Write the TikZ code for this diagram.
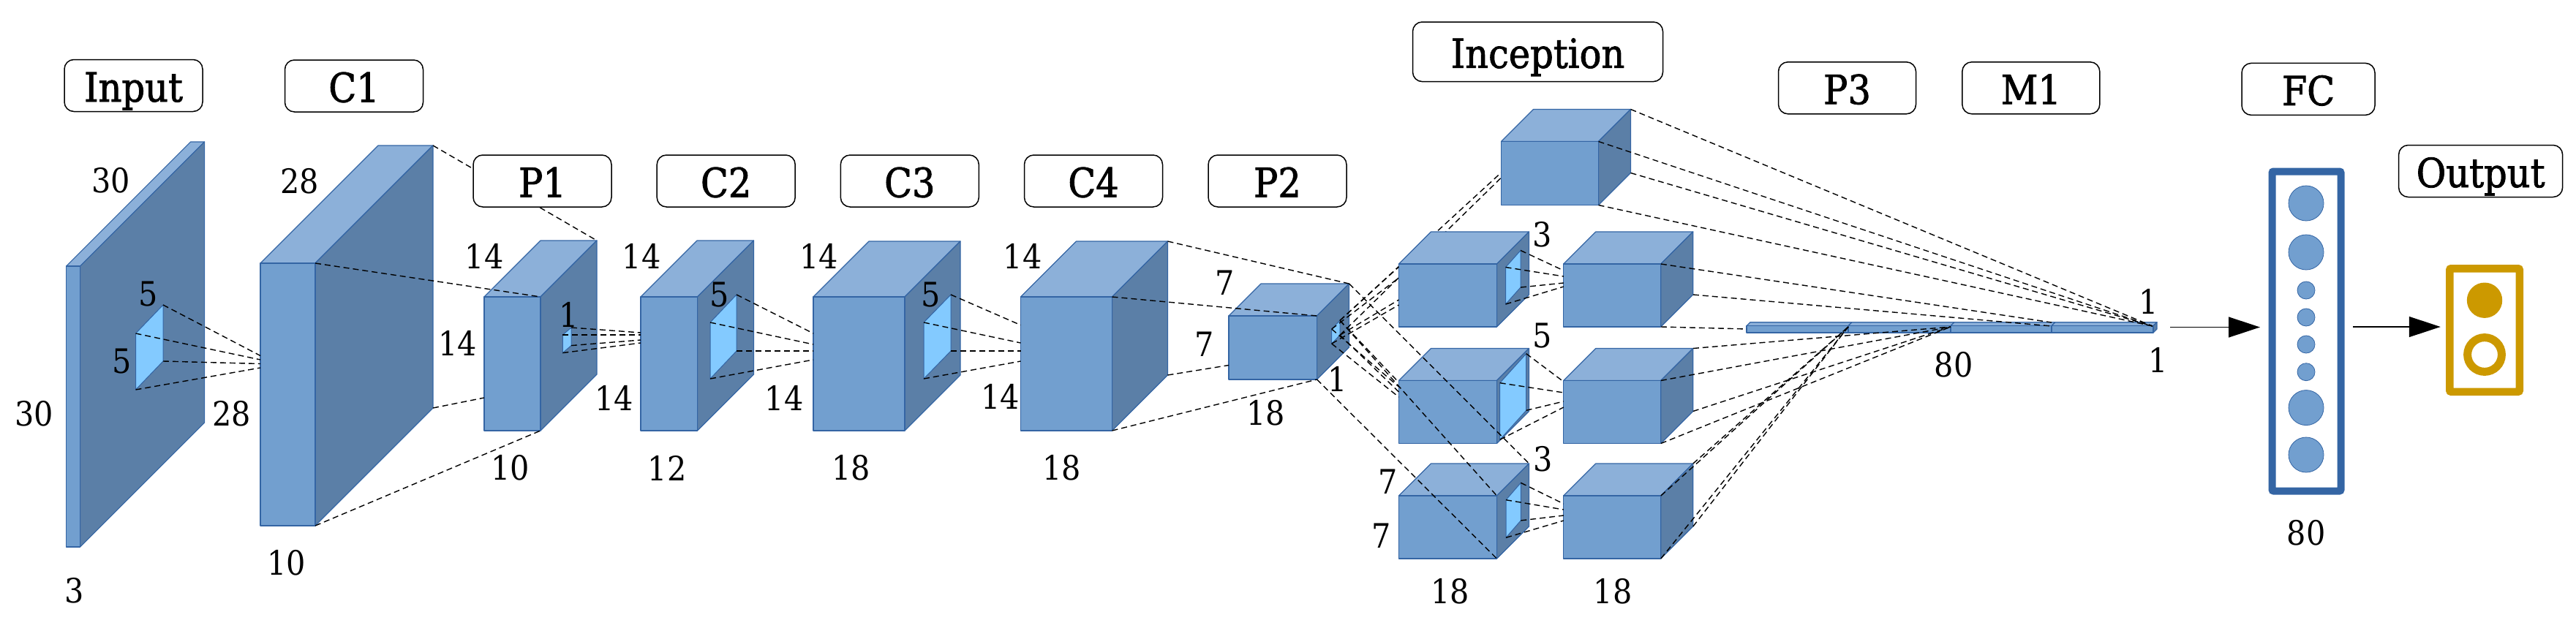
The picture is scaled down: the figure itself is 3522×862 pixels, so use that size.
\documentclass[tikz,border=0pt]{standalone}
\usepackage{fontspec}
\setmainfont{DejaVu Serif}[FakeStretch=0.9]
\newfontfamily\lblfont{DejaVu Serif}[FakeStretch=0.9,FakeBold=1.5]
\usetikzlibrary{arrows.meta,calc}
\definecolor{frontc}{HTML}{729FCF}
\definecolor{topc}{HTML}{8CB0D9}
\definecolor{sidec}{HTML}{5B7FA7}
\definecolor{edgec}{HTML}{3465A4}
\definecolor{winc}{HTML}{83CAFF}
\definecolor{goldc}{HTML}{CC9900}
\tikzset{
  face/.style={draw=edgec, line width=1.2pt, line join=round},
  dl/.style={black, line width=1.4pt, dash pattern=on 8pt off 5pt},
  lbl/.style={draw=black, line width=1.5pt, rounded corners=13pt, fill=white,
    minimum height=71pt, minimum width=189pt, inner sep=0pt,
    text height=44pt, text depth=0pt, font=\lblfont\fontsize{55}{60}\selectfont},
  num/.style={inner sep=0pt, font=\fontsize{46}{50}\selectfont},
  arr/.style={black, line width=1.4pt, -{Triangle[length=43pt,width=28pt]}},
}
% cuboid: name, x, y (front top-left), width, height, depth
\newcommand\cuboid[6]{%
  \coordinate (#1-ftl) at (#2,#3);
  \coordinate (#1-ftr) at ({#2+#4},#3);
  \coordinate (#1-fbr) at ({#2+#4},{#3+#5});
  \coordinate (#1-fbl) at (#2,{#3+#5});
  \coordinate (#1-btl) at ({#2+#6},{#3-#6});
  \coordinate (#1-btr) at ({#2+#4+#6},{#3-#6});
  \coordinate (#1-bbr) at ({#2+#4+#6},{#3+#5-#6});
  \filldraw[face,fill=topc] (#1-ftl) -- (#1-btl) -- (#1-btr) -- (#1-ftr) -- cycle;
  \filldraw[face,fill=sidec] (#1-ftr) -- (#1-btr) -- (#1-bbr) -- (#1-fbr) -- cycle;
  \filldraw[face,fill=frontc] (#1-ftl) rectangle (#1-fbr);
}
% window: name, x, y, height, dx, dy
\newcommand\cubewin[6]{%
  \coordinate (#1-1) at (#2,#3);
  \coordinate (#1-2) at ({#2+#5},{#3-#6});
  \coordinate (#1-3) at ({#2+#5},{#3+#4-#6});
  \coordinate (#1-4) at (#2,{#3+#4});
  \filldraw[draw=edgec, line width=1pt, fill=winc] (#1-1) -- (#1-2) -- (#1-3) -- (#1-4) -- cycle;
}
% dashed line from a named point to a new named coordinate
\newcommand\dlto[4]{\coordinate (#2) at (#3,#4); \draw[dl] (#1) -- (#2);}
\begin{document}
\begin{tikzpicture}[x=1pt,y=-1pt]
\useasboundingbox (0,0) rectangle (3522,862);

% ---- cuboids (left part)
\cuboid{IN}{90.6}{364}{19}{384}{170}
\cubewin{INw}{185.5}{456}{77}{37.5}{39}
\cuboid{CA}{356}{360}{75}{359}{161}
\cuboid{PA}{662}{406}{77}{183}{77}
\cubewin{PAw}{769.4}{458}{24.6}{11.6}{10}
\cuboid{CB}{876}{406}{77.5}{183}{77}
\cubewin{CBw}{971}{441}{77}{36}{38}
\cuboid{CC}{1112}{406}{125}{183}{76}
\cubewin{CCw}{1263}{441}{77}{37}{38}
\cuboid{CD}{1395.5}{406}{125}{183}{76}
\cuboid{PB}{1680}{432}{120.5}{87}{44}
\cubewin{PBw}{1820.7}{450}{20}{11.3}{11.7}

% lines from P2 to the pooling branch (hidden behind the first branch box)
\dlto{PBw-2}{ipa}{2052.5}{236}
\dlto{PBw-3}{ipb}{2052.5}{243}

% ---- inception cuboids
\cuboid{IP}{2052.5}{193.5}{133}{87}{44}
\cuboid{LA}{1912.5}{361}{134}{86}{44}
\cubewin{LAw}{2058.5}{365.5}{50.5}{20.5}{23}
\cuboid{LB}{1912.5}{520.5}{134}{86}{44}
\cubewin{LBw}{2050.7}{523.7}{77.6}{36}{40}
\cuboid{LC}{1912.5}{678}{134}{86}{44}
\cubewin{LCw}{2059}{683.7}{51.6}{20.3}{23.4}
\cuboid{RA}{2137.8}{361}{133}{86}{44}
\cuboid{RB}{2137.8}{520.5}{133}{86}{44}
\cuboid{RC}{2137.8}{678}{133}{86}{44}

% ---- P3 / M1 bar
\cuboid{BA}{2388}{445.7}{139}{9.3}{5}
\cuboid{BB}{2527}{445.7}{140}{9.3}{5}
\cuboid{BC}{2667}{445.7}{138}{9.3}{5}
\cuboid{BD}{2805}{445.7}{139}{9.3}{5}

% ---- dashed connections
% Input -> C1
\dlto{INw-2}{ca1}{356}{486.5}
\dlto{INw-1}{ca2}{356}{492}
\dlto{INw-3}{ca3}{356}{497.5}
\dlto{INw-4}{ca4}{356}{503}
% C1 -> P1
\draw[dl] (CA-btr) -- (PA-btr);
\draw[dl] (CA-ftr) -- (PA-ftr);
\dlto{CA-bbr}{pa1}{662}{544}
\draw[dl] (CA-fbr) -- (PA-fbr);
% P1 -> C2
\dlto{PAw-2}{cb1}{876}{455}
\dlto{PAw-1}{cb2}{876}{458}
\dlto{PAw-3}{cb3}{876}{465}
\dlto{PAw-4}{cb4}{876}{469}
% C2 -> C3
\dlto{CBw-2}{cc1}{1112}{456}
\dlto{CBw-1}{cc2}{1112}{471}
\dlto{CBw-3}{cc3}{1112}{480}
\dlto{CBw-4}{cc4}{1112}{492}
% C3 -> C4
\dlto{CCw-2}{cd1}{1395.5}{444.6}
\dlto{CCw-1}{cd2}{1395.5}{469}
\dlto{CCw-3}{cd3}{1395.5}{480}
\dlto{CCw-4}{cd4}{1395.5}{494}
% C4 -> P2
\draw[dl] (CD-btr) -- (PB-btr);
\draw[dl] (CD-ftr) -- (PB-ftr);
\dlto{CD-bbr}{pb1}{1680}{499.5}
\draw[dl] (CD-fbr) -- (PB-fbr);
% P2 -> inception
\dlto{PBw-2}{la1}{1912.5}{365}
\dlto{PBw-1}{la2}{1912.5}{380}
\dlto{PBw-3}{la3}{1912.5}{410}
\dlto{PBw-4}{la4}{1912.5}{417}
\dlto{PBw-2}{lb1}{1912.5}{523}
\dlto{PBw-1}{lb2}{1912.5}{529}
\dlto{PBw-3}{lb3}{1912.5}{536}
\dlto{PBw-4}{lb4}{1912.5}{543}
\draw[dl] (PB-btr) -- (LC-btr);
\draw[dl] (PBw-2) -- (LC-ftr);
\draw[dl] (PB-fbr) -- (LC-fbr);
% inception left -> right
\dlto{LAw-2}{ra1}{2137.8}{370}
\dlto{LAw-1}{ra2}{2137.8}{378}
\dlto{LAw-3}{ra3}{2137.8}{387}
\dlto{LAw-4}{ra4}{2137.8}{392}
\dlto{LBw-2}{rb1}{2137.8}{522}
\dlto{LBw-1}{rb2}{2137.8}{537}
\dlto{LBw-3}{rb3}{2137.8}{549}
\dlto{LBw-4}{rb4}{2137.8}{557}
\dlto{LCw-2}{rc1}{2137.8}{689}
\dlto{LCw-1}{rc2}{2137.8}{697}
\dlto{LCw-3}{rc3}{2137.8}{705}
\dlto{LCw-4}{rc4}{2137.8}{712}
% inception -> bar
\coordinate (barend) at (2943,446);
\draw[dl] (IP-btr) -- (barend);
\draw[dl] (IP-ftr) -- (barend);
\draw[dl] (IP-bbr) -- (barend);
\draw[dl] (IP-fbr) -- (barend);
\coordinate (bar3a) at (2805,441);
\coordinate (bar3b) at (2805,446);
\draw[dl] (RA-ftr) -- (bar3a);
\draw[dl] (RA-bbr) -- (bar3b);
\dlto{RA-fbr}{bar0}{2388}{450}
\coordinate (bar2) at (2667,447);
\draw[dl] (RB-btr) -- (bar2);
\draw[dl] (RB-ftr) -- (bar2);
\draw[dl] (RB-bbr) -- (bar2);
\draw[dl] (RB-fbr) -- (bar2);
\coordinate (bar1) at (2527,447);
\draw[dl] (RC-btr) -- (bar1);
\draw[dl] (RC-ftr) -- (bar1);
\draw[dl] (RC-bbr) -- (bar1);
\draw[dl] (RC-fbr) -- (bar1);

% ---- FC and output
\node[draw=edgec, line width=10pt, minimum width=94pt, minimum height=437pt,
      rounded corners=2pt, inner sep=0pt] (fc) at (3153.5,453) {};
\foreach \yy in {278,345,557.6,622}
  \filldraw[fill=frontc, draw=edgec, line width=0.8pt] (3153,\yy) circle (24pt);
\foreach \yy in {397,434,471,508.7}
  \filldraw[fill=frontc, draw=edgec, line width=0.8pt] (3153,\yy) circle (12pt);
\node[draw=goldc, line width=10.5pt, minimum width=95.5pt, minimum height=168.5pt,
      rounded corners=2pt, inner sep=0pt] (out) at (3397,451.5) {};
\fill[goldc] (3397,410.7) circle (24.2pt);
\draw[goldc, line width=11pt] (3397,485) circle (23.4pt);
\coordinate (barout) at (2967,447.5);
\draw[arr, shorten >=11.5pt] (barout) -- (barout -| fc.west);
\draw[arr, shorten <=11.5pt, shorten >=7.25pt] ([yshift=6pt]fc.east) -- ([yshift=6pt]fc.east -| out.west);

% ---- title boxes
\node[lbl] (tin) at (182.5,117) {Input};
\node[lbl] (tc1) at (484,117.5) {C1};
\node[lbl] (tp1) at (741.5,247.5) {P1};
\node[lbl] (tc2) at (992.7,247.5) {C2};
\node[lbl] (tc3) at (1243.8,247.5) {C3};
\node[lbl] (tc4) at (1495,247.5) {C4};
\node[lbl] (tp2) at (1746.5,247.5) {P2};
\node[lbl, minimum width=342pt, minimum height=81.6pt] (tinc) at (2102.5,70.8) {Inception};
\node[lbl, minimum width=188pt] (tp3) at (2525.5,120.3) {P3};
\node[lbl, minimum width=188pt] (tm1) at (2776.8,120.3) {M1};
\node[lbl, minimum width=182pt] (tfc) at (3156,121.9) {FC};
\node[lbl, minimum width=224pt] (tout) at (3391.6,234) {Output};

% ---- dimension labels
\node[num] (n1) at (152,247) {30};
\node[num] (n2) at (47,566) {30};
\node[num] (n3) at (102,808) {3};
\node[num] (n4) at (203,402) {5};
\node[num] (n5) at (166.5,494) {5};
\node[num] (n6) at (410,247.4) {28};
\node[num] (n7) at (317,566) {28};
\node[num] (n8) at (391.5,769.6) {10};
\node[num] (n9) at (662.2,350) {14};
\node[num] (n10) at (625.5,469.2) {14};
\node[num] (n11) at (698,640.2) {10};
\node[num] (n12) at (777.6,430.4) {1};
\node[num] (n13) at (877,350) {14};
\node[num] (n14) at (839.8,544.2) {14};
\node[num] (n15) at (983.7,403) {5};
\node[num] (n16) at (912.2,640.2) {12};
\node[num] (n17) at (1119.4,350) {14};
\node[num] (n18) at (1072,544) {14};
\node[num] (n19) at (1272.4,403) {5};
\node[num] (n20) at (1163.8,640) {18};
\node[num] (n21) at (1398.2,350) {14};
\node[num] (n22) at (1367.9,542.9) {14};
\node[num] (n23) at (1451.8,640.2) {18};
\node[num] (n24) at (1675,386.6) {7};
\node[num] (n25) at (1646.9,470.5) {7};
\node[num] (n26) at (1730.8,565.2) {18};
\node[num] (n27) at (1828.6,518.3) {1};
\node[num] (n28) at (2109,321) {3};
\node[num] (n29) at (2109,459.5) {5};
\node[num] (n30) at (2109.3,627.5) {3};
\node[num] (n31) at (1897.3,658.7) {7};
\node[num] (n32) at (1888.3,732.7) {7};
\node[num] (n33) at (1982.7,808.5) {18};
\node[num] (n34) at (2205,808.5) {18};
\node[num] (n35) at (2938,412) {1};
\node[num] (n36) at (2950.5,492) {1};
\node[num] (n37) at (2671,499) {80};
\node[num] (n38) at (3153,729) {80};
\end{tikzpicture}
\end{document}
